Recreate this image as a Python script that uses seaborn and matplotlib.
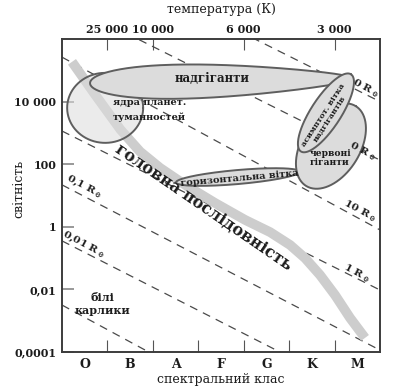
import numpy as np
import pandas as pd
import matplotlib
matplotlib.use("Agg")
import matplotlib.pyplot as plt
import seaborn as sns

sns.set_style("white")
plt.rcParams['font.family'] = ['DejaVu Serif']
plt.rcParams['font.weight'] = 'bold'
plt.rcParams['mathtext.fontset'] = 'dejavuserif'
plt.rcParams['mathtext.default'] = 'bf'

# ---- data ----
classes = ['O', 'B', 'A', 'F', 'G', 'K', 'M']
lum_ticks = [4, 2, 0, -2, -4]            # log10 L
lum_labels = ['10 000', '100', '1', '0,01', '0,0001']
temp_pos = [1, 2, 4, 6]
temp_labels = ['25 000', '10 000', '6 000', '3 000']

# main sequence (class position, log10 L)
ms_class = [0.22, 0.73, 1.29, 1.72, 2.16, 2.71, 3.37, 4.03, 4.58, 5.02, 5.35,
            5.68, 6.01, 6.34, 6.67]
ms_logL = [5.27, 4.22, 3.10, 2.40, 1.88, 1.34, 0.76, 0.22, -0.17, -0.58, -1.00,
           -1.54, -2.18, -2.91, -3.55]

# constant radius lines: log10 L at left (O edge) and right (M edge)
radius_names = ['1000', '100', '10', '1', '0,1', '0,01', '0,001']
radius_left = [9.08, 7.21, 5.42, 3.06, 1.34, -0.45, -2.50]
radius_right = [4.00, 2.13, -0.10, -2.02, -3.94, -5.63, -8.00]

fig = plt.figure(figsize=(3.98, 3.91), dpi=100)
L, B, W, H = 62 / 398, 1 - 352 / 391, 318 / 398, 313 / 391
ax = fig.add_axes([L, B, W, H])
ax.set_xlim(0, 7)
ax.set_ylim(-4, 6)
SX = 398 * W / 7    # px per class
SY = 391 * H / 10   # px per decade

ink = '#1c1c1c'
edge = '#3c3c3c'

# dashed radius lines
for nm, l, r in zip(radius_names, radius_left, radius_right):
    sns.lineplot(x=[0, 7], y=[l, r], ax=ax, color='#4a4a4a', lw=0.9,
                 linestyle=(0, (6.5, 5)), zorder=1)

# main sequence band
sns.lineplot(x=ms_class, y=ms_logL, sort=False, ax=ax, color='#cdcdcd',
             lw=7.0, solid_capstyle='butt', solid_joinstyle='round', zorder=2)


def blob(xc, yc, a, b, ang, taper=0.0, alpha=1.0, z=3):
    t = np.linspace(0, 2 * np.pi, 240)
    s = np.cos(t)
    u = a * s
    v = b * np.sin(t) * (1 - taper * s)
    th = np.radians(ang)
    x = xc + (u * np.cos(th) - v * np.sin(th)) / SX
    y = yc + (u * np.sin(th) + v * np.cos(th)) / SY
    ax.fill(x, y, fc='#dcdcdc', ec='none', alpha=alpha, zorder=z)
    ax.plot(x, y, color='#5e5e5e', lw=1.4, zorder=z + 0.1)


blob(0.95, 3.80, 38, 35, 0, alpha=0.55, z=3)          # planetary nebulae
blob(3.50, 4.66, 131, 16, 1, taper=0.4, z=3.2)        # supergiants
blob(3.87, 1.59, 62, 7, 5, z=3)                       # horizontal branch
blob(5.92, 2.58, 47, 29, 58, z=3.4)                   # red giants
blob(5.81, 3.64, 46, 15, 57, z=3.6)                   # AGB

# radius labels (the first two are partly hidden behind the regions)
rl = dict(fontsize=7.5, color=ink, rotation=-28, rotation_mode='anchor',
          va='center', ha='center', zorder=5)
ax.text(6.69, 4.43, '0 R$_\\odot$', **rl)
ax.text(6.62, 2.42, '0 R$_\\odot$', **rl)
ax.text(6.56, 0.50, '10 R$_\\odot$', **rl)
ax.text(6.49, -1.48, '1 R$_\\odot$', **rl)
ax.text(0.48, 1.27, '0,1 R$_\\odot$', **rl)
ax.text(0.48, -0.58, '0,01 R$_\\odot$', **rl)

# region labels
ax.text(3.30, 4.75, 'надгіганти', fontsize=8.5, ha='center', va='center', color=ink, zorder=6)
ax.text(1.12, 3.96, 'ядра планет.', fontsize=7, ha='left', va='center', color=ink, zorder=6)
ax.text(1.12, 3.51, 'туманностей', fontsize=7, ha='left', va='center', color=ink, zorder=6)
ax.text(3.92, 1.56, 'горизонтальна вітка', fontsize=7, ha='center', va='center',
        rotation=5, rotation_mode='anchor', color=ink, zorder=6)
ax.text(5.90, 2.20, 'червоні\nгіганти', fontsize=6.6, ha='center', va='center',
        linespacing=1.1, color=ink, zorder=6)
ax.text(5.83, 3.51, 'асимптот. вітка\nнадгігантів', fontsize=5.7, ha='center', va='center',
        rotation=57, rotation_mode='anchor', linespacing=1.0, color=ink, zorder=6)
ax.text(0.90, -2.47, 'білі\nкарлики', fontsize=8, ha='center', va='center',
        linespacing=1.2, color=ink, zorder=6)
ax.text(3.13, 0.62, 'головна послідовність', fontsize=11.5, ha='center', va='center',
        rotation=-34.5, rotation_mode='anchor', color=ink, zorder=6)

# axes styling
for sp in ax.spines.values():
    sp.set_color(edge)
    sp.set_linewidth(1.4)

ax.set_xticks(range(1, 7))
ax.set_xticklabels([])
ax.set_xticks([i + 0.5 for i in range(7)], minor=True)
ax.set_xticklabels(classes, minor=True, fontsize=9, color=ink)
ax.tick_params(axis='x', which='major', direction='in', length=8.5, width=0.8,
               color='#555555', bottom=True)
ax.tick_params(axis='x', which='minor', length=0, pad=4)
ax.set_yticks(lum_ticks)
ax.set_yticklabels(lum_labels, fontsize=8, color=ink)
ax.tick_params(axis='y', direction='in', length=8.5, width=1.2, color='#888888',
               left=True, pad=4)

ax.set_xlabel('спектральний клас', fontsize=9, color=ink)
ax.xaxis.set_label_coords(0.5, -0.067)
ax.set_ylabel('світність', fontsize=9, color=ink)
ax.yaxis.set_label_coords(-0.115, 0.52)

sec = ax.secondary_xaxis('top')
sec.set_xticks(temp_pos)
sec.set_xticklabels(temp_labels, fontsize=8, color=ink)
sec.tick_params(direction='in', length=8, width=0.8, color='#555555', pad=3)
sec.set_xlabel('температура (К)', fontsize=9, color=ink, labelpad=8)
sec.spines['top'].set_visible(False)

fig.savefig('out.png', dpi=100)
